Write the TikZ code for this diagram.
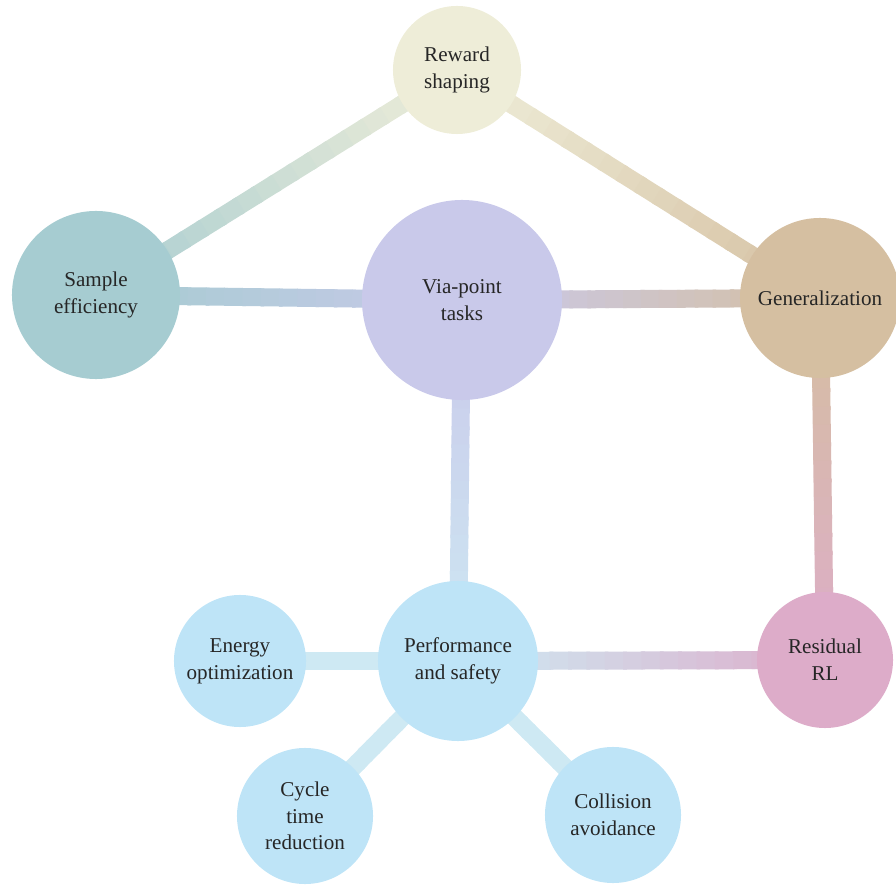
\documentclass[tikz,border=0pt]{standalone}
\usepackage{fontspec}
\setmainfont{Liberation Serif}
\usepackage{xcolor}
\usetikzlibrary{calc,backgrounds}

\definecolor{rewcol}{RGB}{238,237,216}
\definecolor{sampcol}{RGB}{166,204,209}
\definecolor{viacol}{RGB}{201,201,234}
\definecolor{gencol}{RGB}{213,191,161}
\definecolor{perfcol}{RGB}{190,228,247}
\definecolor{rescol}{RGB}{221,172,201}
\definecolor{linkblue}{RGB}{206,233,243}

\begin{document}
\begin{tikzpicture}[x=0.025cm, y=-0.025cm,
    topic/.style={circle, inner sep=0pt, align=center, text=black!85,
      font=\fontsize{15}{19}\selectfont},
    band/.style={line width=0.45cm, line cap=butt}]
\useasboundingbox (0,0) rectangle (896,885);

\node[topic, fill=rewcol, minimum size=3.2cm] (rew) at (457,70) {Reward\\shaping};
\node[topic, fill=sampcol, minimum size=4.2cm] (samp) at (96,295) {Sample\\efficiency};
\node[topic, fill=viacol, minimum size=5cm] (via) at (462,300) {Via-point\\tasks};
\node[topic, fill=gencol, minimum size=4cm] (gen) at (820,298) {Generalization};
\node[topic, fill=perfcol, minimum size=4cm] (perf) at (458,661) {Performance\\and safety};
\node[topic, fill=rescol, minimum size=3.4cm] (res) at (825,660) {Residual\\RL};
\node[topic, fill=perfcol, minimum size=3.3cm] (energy) at (240,661) {Energy\\optimization};
\node[topic, fill=perfcol, minimum size=3.4cm] (cycle) at (305,816) {Cycle\\time\\reduction};
\node[topic, fill=perfcol, minimum size=3.4cm] (coll) at (613,815) {Collision\\avoidance};

% connectors, fading from one colour to the next
\begin{scope}[on background layer]
  \foreach \a/\b/\ca/\cb in {rew/samp/rewcol/sampcol, rew/gen/rewcol/gencol,
      samp/via/sampcol/viacol, via/gen/viacol/gencol, via/perf/viacol/linkblue,
      gen/res/gencol/rescol, perf/res/linkblue/rescol, perf/energy/linkblue/linkblue,
      perf/cycle/linkblue/linkblue, perf/coll/linkblue/linkblue} {
    \foreach \i in {0,...,19} {
      \pgfmathtruncatemacro\p{100-5*\i}
      \draw[band, color=\ca!\p!\cb] ($(\a)!\i/20!(\b)$) -- ($(\a)!\i/20+0.06!(\b)$);
    }
  }
\end{scope}
\end{tikzpicture}
\end{document}
